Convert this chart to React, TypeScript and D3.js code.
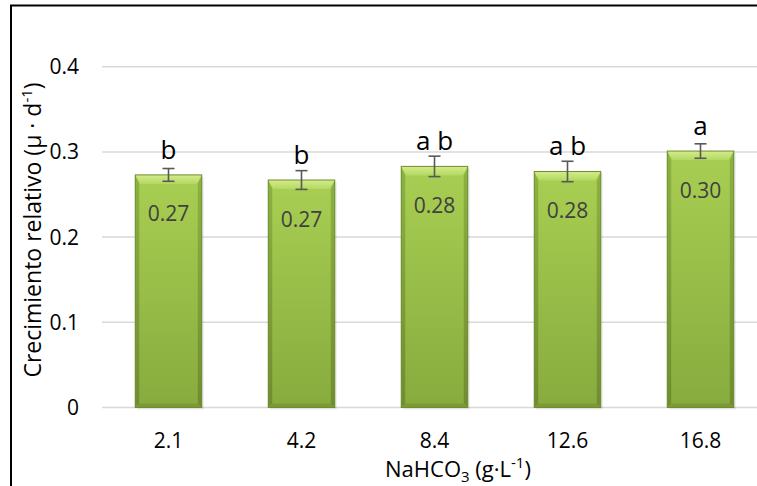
import React from 'react';
import * as d3 from 'd3';

// NaHCO3 concentrations (g/L)
const categories = ['2.1', '4.2', '8.4', '12.6', '16.8'];
// relative growth (mu per day)
const growth = [0.273, 0.267, 0.283, 0.277, 0.301];
const errors = [0.0075, 0.011, 0.012, 0.012, 0.0085];
const valueLabels = ['0.27', '0.27', '0.28', '0.28', '0.30'];
const groupLetters = ['b', 'b', 'a b', 'a b', 'a'];
const yTicks = [0, 0.1, 0.2, 0.3, 0.4];

const W = 757;
const H = 486;
const font = '"Open Sans", "Noto Sans", sans-serif';

const App = () => {
    const x = d3.scaleBand<string>()
        .domain(categories)
        .range([102, 767])
        .paddingInner(0.5)
        .paddingOuter(0.25);
    const y = d3.scaleLinear().domain([0, 0.4]).range([407.5, 66.7]);
    const bw = x.bandwidth();
    const bevel = 9;

    return (
        <svg width={W} height={H} style={{ position: 'absolute', left: 0, top: 0, background: '#fff' }}>
            <defs>
                <linearGradient id="body" x1="0" y1="0" x2="0" y2="1">
                    <stop offset="0" stopColor="#a8cf52" />
                    <stop offset="1" stopColor="#88ab3e" />
                </linearGradient>
                <linearGradient id="side" x1="0" y1="0" x2="0" y2="1">
                    <stop offset="0" stopColor="#8cb242" />
                    <stop offset="1" stopColor="#6f8d30" />
                </linearGradient>
                <linearGradient id="topBevel" x1="0" y1="0" x2="0" y2="1">
                    <stop offset="0" stopColor="#d4ec8c" />
                    <stop offset="1" stopColor="#b4d862" />
                </linearGradient>
            </defs>

            {/* frame (chart is cropped on the right and bottom) */}
            <line x1={10} x2={W} y1={5.5} y2={5.5} stroke="#000" strokeWidth={2} />
            <line x1={11} x2={11} y1={5} y2={H} stroke="#000" strokeWidth={2} />

            {/* grid */}
            {yTicks.map(t => (
                <g key={t}>
                    <line x1={102} x2={W} y1={y(t)} y2={y(t)} stroke="#d9d9d9" strokeWidth={1.5} />
                    <text x={79} y={y(t)} dy="0.36em" textAnchor="end" fontFamily={font} fontSize={21} fill="#000">
                        {t === 0 ? '0' : t.toFixed(1)}
                    </text>
                </g>
            ))}

            {/* bars */}
            {categories.map((c, i) => {
                const x0 = x(c) as number;
                const yt = y(growth[i]);
                const yb = y(0);
                const cx = x0 + bw / 2;
                return (
                    <g key={c}>
                        <rect x={x0 + 2} y={yt + 2} width={bw} height={yb - yt} fill="#000" opacity={0.08} />
                        <rect x={x0} y={yt} width={bw} height={yb - yt} fill="url(#body)" />
                        <polygon points={`${x0},${yt} ${x0 + 4},${yt + bevel} ${x0 + 4},${yb - 4} ${x0},${yb}`} fill="url(#side)" />
                        <polygon points={`${x0 + bw},${yt} ${x0 + bw - 4},${yt + bevel} ${x0 + bw - 4},${yb - 4} ${x0 + bw},${yb}`} fill="url(#side)" />
                        <polygon points={`${x0},${yt} ${x0 + bw},${yt} ${x0 + bw - 5},${yt + bevel} ${x0 + 5},${yt + bevel}`} fill="url(#topBevel)" />
                        <polygon points={`${x0},${yb} ${x0 + bw},${yb} ${x0 + bw - 4},${yb - 4} ${x0 + 4},${yb - 4}`} fill="#7b9a35" />
                        <rect x={x0} y={yt} width={bw} height={yb - yt} fill="none" stroke="#6f8d2f" strokeWidth={1} />

                        {/* error bar */}
                        <g stroke="#595959" strokeWidth={1.6}>
                            <line x1={cx} x2={cx} y1={y(growth[i] + errors[i])} y2={y(growth[i] - errors[i])} />
                            <line x1={cx - 6} x2={cx + 6} y1={y(growth[i] + errors[i])} y2={y(growth[i] + errors[i])} />
                            <line x1={cx - 6} x2={cx + 6} y1={y(growth[i] - errors[i])} y2={y(growth[i] - errors[i])} />
                        </g>

                        <text x={cx} y={yt + 39} dy="0.36em" textAnchor="middle" fontFamily={font} fontSize={21} fill="#404040">
                            {valueLabels[i]}
                        </text>
                        <text x={cx} y={yt - 16} textAnchor="middle" fontFamily={font} fontSize={26} fill="#000">
                            {groupLetters[i]}
                        </text>
                        <text x={cx} y={440} dy="0.36em" textAnchor="middle" fontFamily={font} fontSize={21} fill="#000">
                            {c}
                        </text>
                    </g>
                );
            })}

            {/* axis titles */}
            <text x={458} y={477} textAnchor="middle" fontFamily={font} fontSize={22} fill="#000">
                NaHCO<tspan dy={5} fontSize={15}>3</tspan><tspan dy={-5}> (g·L</tspan><tspan dy={-9} fontSize={15}>-1</tspan><tspan dy={9}>)</tspan>
            </text>
            <text transform="translate(41,230) rotate(-90)" textAnchor="middle" fontFamily={font} fontSize={23} fill="#000">
                Crecimiento relativo (µ · d<tspan dy={-9} fontSize={15}>-1</tspan><tspan dy={9}>)</tspan>
            </text>
        </svg>
    );
};

export default App;
